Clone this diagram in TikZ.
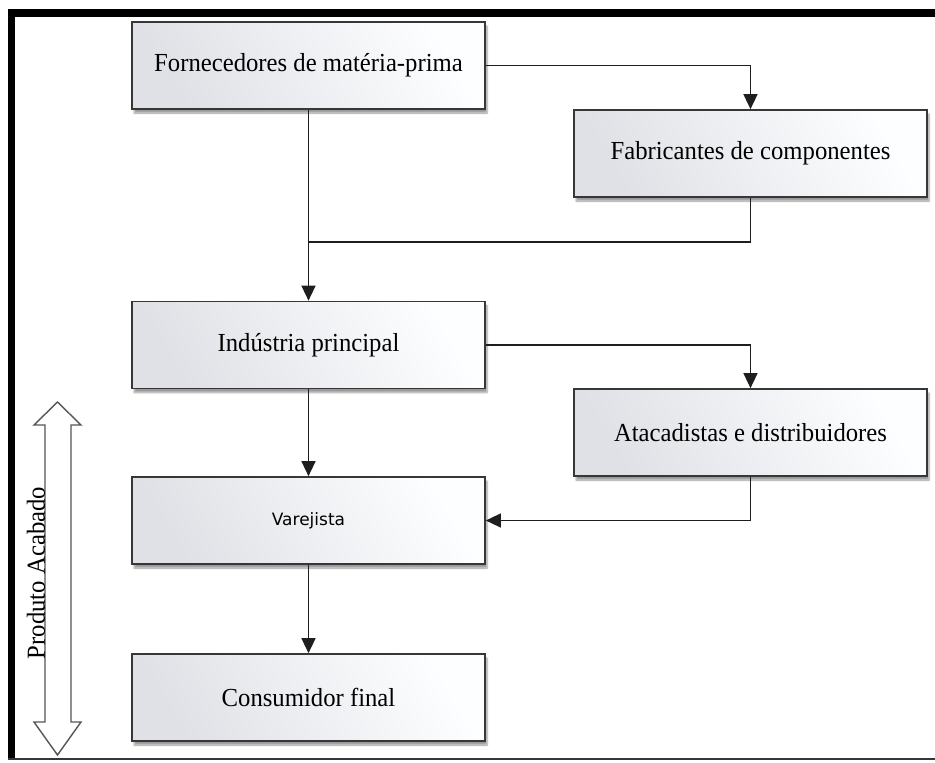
\documentclass[tikz,border=0pt]{standalone}
\usepackage{fontspec}
\setmainfont[FakeStretch=0.95]{Liberation Serif}
\newfontfamily\labelsans{DejaVu Sans}
\usetikzlibrary{arrows.meta,shadows.blur}

\definecolor{boxshadeA}{RGB}{224,225,230}
\definecolor{boxshadeB}{RGB}{253,254,255}
\definecolor{boxline}{RGB}{55,55,55}
\definecolor{wireline}{RGB}{30,30,30}

\tikzset{
  stagebox/.style={
    draw=boxline, line width=1.7pt,
    top color=boxshadeA, bottom color=boxshadeB, shading angle=120,
    minimum width=353pt, minimum height=87pt, inner sep=0pt,
    font=\fontsize{26}{30}\selectfont,
    blur shadow={shadow xshift=2pt, shadow yshift=-4pt, shadow blur steps=6, shadow opacity=40}
  },
  wire/.style={draw=wireline, line width=1.5pt},
  flow/.style={wire, -{Triangle[length=15pt,width=14pt]}}
}

\begin{document}
\begin{tikzpicture}[x=1pt, y=-1pt]
  \useasboundingbox (0,0) rectangle (935,763);

  % outer frame: heavy top and left edges, thin bottom edge
  \fill[black] (8,9) rectangle (935,17);
  \fill[black] (8,9) rectangle (15,760);
  \draw[boxline, line width=1.6pt] (8,759) -- (935,759);

  % stages of the chain
  \node[stagebox] (forn) at (308.5,65.5)  {Fornecedores de matéria-prima};
  \node[stagebox] (fabr) at (750.5,153.5) {Fabricantes de componentes};
  \node[stagebox] (indu) at (308.5,345)   {Indústria principal};
  \node[stagebox] (atac) at (750.5,432.5) {Atacadistas e distribuidores};
  \node[stagebox, font=\labelsans\fontsize{17}{20}\selectfont] (vare) at (308.5,520.5) {Varejista};
  \node[stagebox] (cons) at (308.5,697.5) {Consumidor final};

  % junction where the component line meets the main line
  \coordinate (join) at (forn.south |- 0,242);

  % connectors
  \draw[flow] (forn.east) -| (fabr.north);
  \draw[wire] (fabr.south) |- (join);
  \draw[flow] (forn.south) -- (indu.north);
  \draw[flow] (indu.east) -| (atac.north);
  \draw[flow] (indu.south) -- (vare.north);
  \draw[flow] (atac.south) |- (vare.east);
  \draw[flow] (vare.south) -- (cons.north);

  % finished-product double arrow
  \draw[draw=boxline!85, line width=1.4pt, fill=white, line join=miter]
    (57.5,402) -- (81,425) -- (71,425) -- (71,722) -- (81,722) -- (57.5,755)
    -- (34,722) -- (45,722) -- (45,425) -- (34,425) -- cycle;
  \node[rotate=90, anchor=base, font=\fontsize{26}{30}\selectfont, inner sep=0pt] (prod) at (45,573) {Produto Acabado};
\end{tikzpicture}
\end{document}
